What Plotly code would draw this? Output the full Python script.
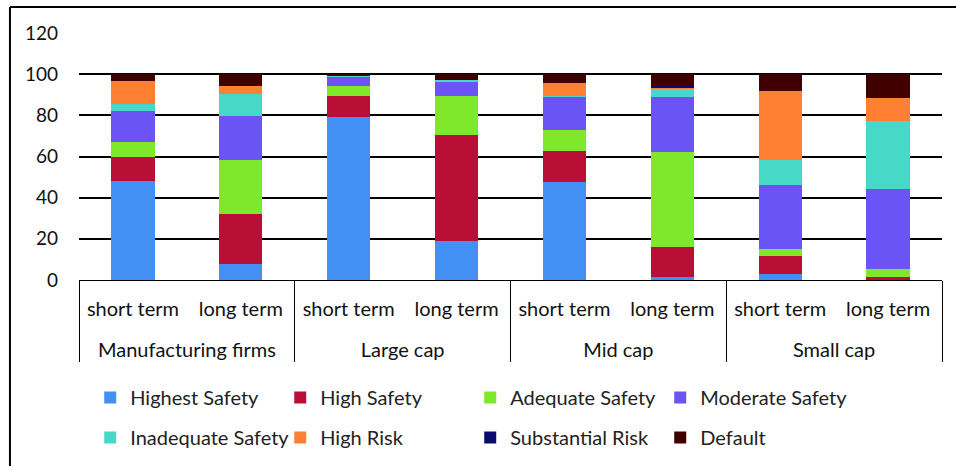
import plotly.graph_objects as go

groups = ["Manufacturing firms", "Manufacturing firms", "Large cap", "Large cap",
          "Mid cap", "Mid cap", "Small cap", "Small cap"]
terms = ["short term", "long term"] * 4

series_names = ["Highest Safety", "High Safety", "Adequate Safety", "Moderate Safety",
                "Inadequate Safety", "High Risk", "Substantial Risk", "Default"]
highest = [48, 7.6, 79, 19, 47.7, 1.5, 3.1, 0]
high = [12, 24.3, 10.5, 51.3, 15.1, 14.4, 8.6, 1.5]
adequate = [7, 26.4, 4.8, 18.9, 10.2, 46.4, 3.3, 3.8]
moderate = [15, 21.5, 4.7, 7, 16, 26.7, 31, 38.9]
inadequate = [3.3, 10.8, 0.5, 1.1, 0.5, 4, 12.4, 33.1]
high_risk = [11.4, 3.6, 0, 0, 6.3, 0.7, 33.5, 11]
substantial = [0, 0, 0, 0, 0, 0.5, 0, 0]
default = [3.3, 5.8, 0.5, 2.7, 4.2, 5.8, 8.1, 11.7]
y_ticks = [0, 20, 40, 60, 80, 100, 120]

colors = ["#4390F4", "#B90E36", "#80E82A", "#6A54F5",
          "#47D9C8", "#FF8032", "#0A0A70", "#400000"]
values = [highest, high, adequate, moderate, inadequate, high_risk, substantial, default]

FONT = "Lato, Open Sans, sans-serif"

# a leading line break pushes the group row further below the term row
group_labels = ["<br>" + g for g in groups]

fig = go.Figure()
for i, (name, vals, col) in enumerate(zip(series_names, values, colors)):
    fig.add_trace(go.Bar(
        x=[group_labels, terms], y=vals, name=name,
        marker=dict(color=col, line=dict(width=0)),
        legend="legend" if i < 4 else "legend2",
    ))

legend_font = dict(family=FONT, size=20, color="#222222")

fig.update_layout(
    barmode="stack",
    bargap=0.6,
    width=956, height=466,
    margin=dict(l=79, r=14, t=33, b=186),
    paper_bgcolor="white", plot_bgcolor="white",
    font=dict(family=FONT, size=20, color="#111111"),
    xaxis=dict(
        type="multicategory",
        automargin=False,
        showline=True, linecolor="black", linewidth=1,
        showdividers=True, dividercolor="black", dividerwidth=1,
        tickfont=dict(family=FONT, size=20, color="#111111"),
        ticklabelstandoff=11,
        showgrid=False,
    ),
    yaxis=dict(
        automargin=False,
        range=[0, 120], tickvals=y_ticks,
        showgrid=True, gridcolor="black", gridwidth=2,
        zeroline=False, showline=False,
        ticklabelstandoff=20,
        tickfont=dict(family=FONT, size=19, color="#111111"),
    ),
    legend=dict(orientation="h", x=0.013, xanchor="left",
                yref="container", y=0.189, yanchor="top",
                entrywidth=145, font=legend_font,
                traceorder="normal", itemclick=False),
    legend2=dict(orientation="h", x=0.013, xanchor="left",
                 yref="container", y=0.103, yanchor="top",
                 entrywidth=145, font=legend_font,
                 traceorder="normal", itemclick=False),
    shapes=[
        dict(type="line", xref="paper", yref="paper", x0=-0.08, x1=-0.08, y0=-0.9, y1=1.105,
             line=dict(color="black", width=2)),
        dict(type="line", xref="paper", yref="paper", x0=-0.08, x1=1.1, y0=1.105, y1=1.105,
             line=dict(color="black", width=2)),
    ],
)

fig.write_html("out.html", config={"displayModeBar": False},
               post_script="document.body.style.margin='0';")
